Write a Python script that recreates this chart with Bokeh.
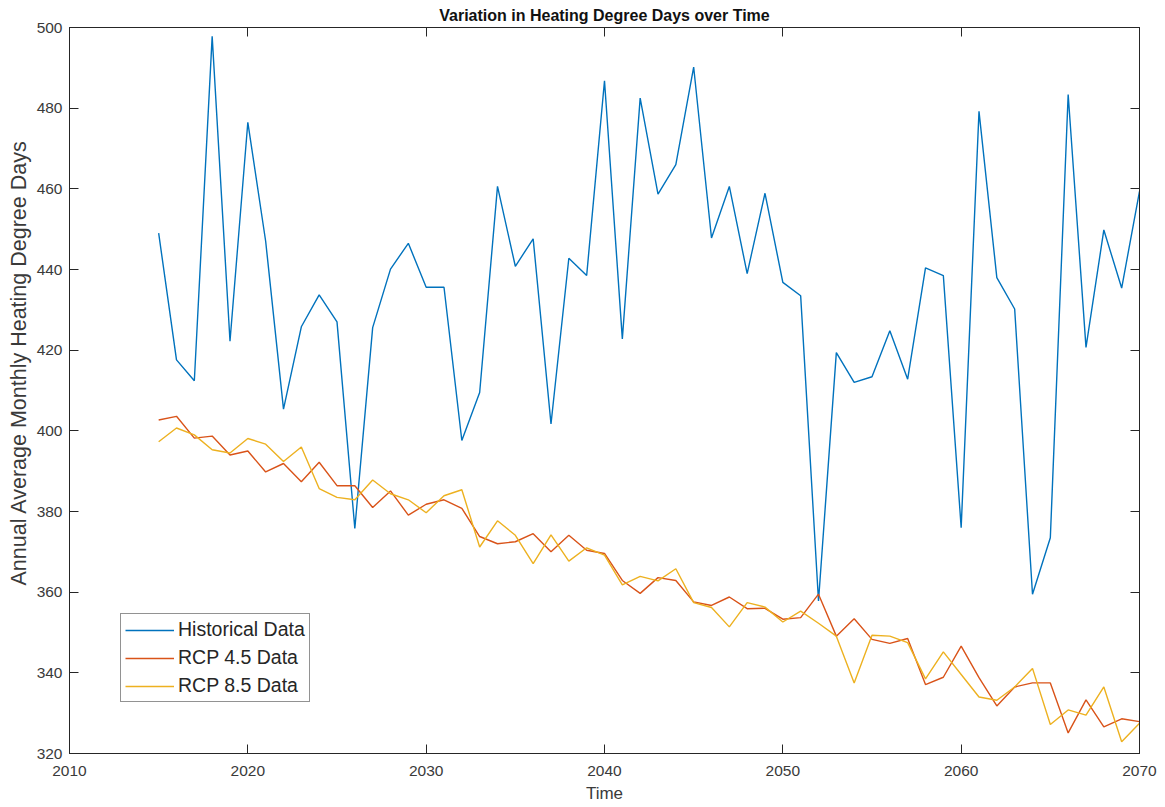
from bokeh.plotting import figure
from bokeh.models import Range1d, FixedTicker, LinearAxis, Legend, LegendItem, Title
from bokeh.embed import file_html
from bokeh.resources import INLINE

years = [2015, 2016, 2017, 2018, 2019, 2020, 2021, 2022, 2023, 2024,
         2025, 2026, 2027, 2028, 2029, 2030, 2031, 2032, 2033, 2034,
         2035, 2036, 2037, 2038, 2039, 2040, 2041, 2042, 2043, 2044,
         2045, 2046, 2047, 2048, 2049, 2050, 2051, 2052, 2053, 2054,
         2055, 2056, 2057, 2058, 2059, 2060, 2061, 2062, 2063, 2064,
         2065, 2066, 2067, 2068, 2069, 2070]

historical = [449.0, 417.6, 412.4, 497.8, 422.2, 476.5, 447.0, 405.4, 425.8, 433.7,
              427.0, 375.8, 425.6, 440.1, 446.5, 435.6, 435.6, 397.6, 409.5, 460.6,
              440.8, 447.6, 401.7, 442.8, 438.5, 486.8, 422.8, 482.5, 458.7, 466.0,
              490.2, 447.8, 460.6, 439.0, 458.9, 436.8, 433.5, 357.8, 419.4, 412.0,
              413.4, 424.8, 412.8, 440.4, 438.5, 376.0, 479.2, 438.0, 430.2, 359.5,
              373.5, 483.4, 420.7, 449.8, 435.4, 459.4]

rcp45 = [402.7, 403.6, 398.2, 398.7, 394.0, 395.0, 389.8, 391.9, 387.4, 392.2,
         386.4, 386.4, 381.0, 385.1, 379.1, 381.8, 382.9, 380.8, 373.8, 372.0,
         372.5, 374.5, 370.0, 374.1, 370.4, 369.6, 362.9, 359.7, 363.6, 362.9,
         357.6, 356.7, 358.8, 355.9, 356.0, 353.3, 353.7, 359.5, 349.1, 353.4,
         348.3, 347.3, 348.5, 337.1, 338.9, 346.6, 338.8, 331.8, 336.5, 337.5,
         337.5, 325.1, 333.3, 326.6, 328.6, 327.9]

rcp85 = [397.3, 400.7, 399.0, 395.3, 394.5, 398.1, 396.7, 392.4, 396.0, 385.7,
         383.5, 382.9, 387.8, 384.4, 382.9, 379.7, 383.9, 385.4, 371.2, 377.7,
         374.1, 367.1, 374.2, 367.7, 371.0, 369.2, 361.8, 363.9, 362.8, 365.8,
         357.4, 356.2, 351.4, 357.4, 356.3, 352.6, 355.3, 352.3, 349.1, 337.5,
         349.3, 349.1, 347.5, 338.5, 345.2, 339.6, 334.0, 333.2, 336.5, 341.1,
         327.2, 330.8, 329.5, 336.5, 322.9, 327.5]

x_ticks = [2010, 2020, 2030, 2040, 2050, 2060, 2070]
y_ticks = [320, 340, 360, 380, 400, 420, 440, 460, 480, 500]

title_text = "Variation in Heating Degree Days over Time"
x_label = "Time"
y_label = "Annual Average Monthly Heating Degree Days"
series_names = ["Historical Data", "RCP 4.5 Data", "RCP 8.5 Data"]
colors = ["#0072BD", "#D95319", "#EDB120"]

FONT = "Liberation Sans"
AX = "#262626"
TXT = "#3a3a3a"

p = figure(width=1158, height=805, output_backend="svg", toolbar_location=None,
           x_range=Range1d(2010, 2070), y_range=Range1d(320, 500),
           min_border_left=69, min_border_right=19, min_border_top=27, min_border_bottom=52)
p.background_fill_color = "white"
p.border_fill_color = "white"
p.outline_line_color = AX
p.outline_line_width = 1
p.grid.visible = False

p.title.text = title_text
p.title.align = "center"
p.title.text_font = FONT
p.title.text_font_style = "bold"
p.title.text_font_size = "16px"
p.title.text_color = "#111111"
p.title.text_line_height = 0.7
p.title.standoff = 7

for ax in (p.xaxis[0], p.yaxis[0]):
    ax.major_tick_in = 9
    ax.major_tick_out = 0
    ax.minor_tick_line_color = None
    ax.axis_line_color = AX
    ax.major_tick_line_color = AX
    ax.major_label_text_font = FONT
    ax.major_label_text_font_size = "15.5px"
    ax.major_label_text_color = TXT
p.xaxis[0].ticker = FixedTicker(ticks=x_ticks)
p.yaxis[0].ticker = FixedTicker(ticks=y_ticks)
p.xaxis[0].major_label_standoff = 12
p.yaxis[0].major_label_standoff = 7
p.xaxis[0].axis_label = x_label
p.xaxis[0].axis_label_text_font = FONT
p.xaxis[0].axis_label_text_font_style = "normal"
p.xaxis[0].axis_label_text_font_size = "17px"
p.xaxis[0].axis_label_text_color = TXT
p.xaxis[0].axis_label_standoff = 5

# top and right axes (ticks only, like a boxed frame)
top = LinearAxis(ticker=FixedTicker(ticks=x_ticks))
right = LinearAxis(ticker=FixedTicker(ticks=y_ticks))
for ax in (top, right):
    ax.major_tick_in = 9
    ax.major_tick_out = 0
    ax.minor_tick_line_color = None
    ax.axis_line_color = AX
    ax.major_tick_line_color = AX
    ax.major_label_text_font_size = "0px"
    ax.major_label_text_alpha = 0
    ax.major_label_standoff = 0
p.add_layout(top, "above")
p.add_layout(right, "right")

# y-axis label as a side title, anchored from the bottom as in the reference
ytitle = Title(text=y_label, align="left", offset=168, standoff=5,
               text_font=FONT, text_font_style="normal", text_font_size="21.5px",
               text_color=TXT)
p.add_layout(ytitle, "left")

r1 = p.line(years, historical, line_color=colors[0], line_width=1.4)
r2 = p.line(years, rcp45, line_color=colors[1], line_width=1.4)
r3 = p.line(years, rcp85, line_color=colors[2], line_width=1.4)

legend = Legend(items=[LegendItem(label=series_names[0], renderers=[r1]),
                       LegendItem(label=series_names[1], renderers=[r2]),
                       LegendItem(label=series_names[2], renderers=[r3])],
                location=(51, 51))
legend.label_text_font = FONT
legend.label_text_font_size = "19.5px"
legend.label_text_color = "#262626"
legend.glyph_width = 49
legend.glyph_height = 20
legend.label_height = 20
legend.label_standoff = 4
legend.spacing = 5
legend.padding = 4
legend.margin = 0
legend.border_line_color = AX
legend.border_line_width = 1
legend.background_fill_alpha = 1
p.add_layout(legend, "center")

open("out.html", "w").write(file_html(p, INLINE))
